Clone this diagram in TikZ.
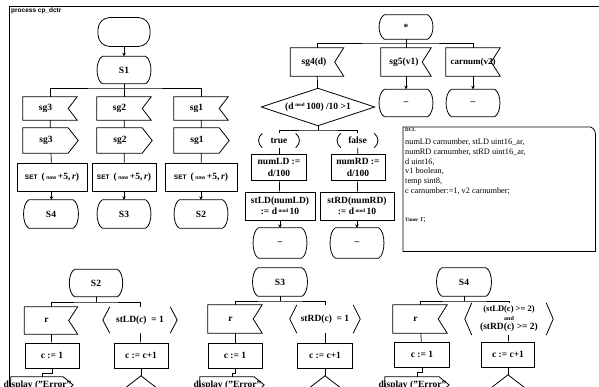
\documentclass[tikz,border=0pt]{standalone}
\usepackage{fontspec}
\setmainfont{Liberation Serif}
\setsansfont{Liberation Sans}
\usetikzlibrary{arrows.meta,calc}

\tikzset{
  lab/.style={font=\bfseries\fontsize{9.5}{11}\selectfont, align=center, inner sep=0pt},
  outline/.style={line width=0.8pt},
  flow/.style={line width=0.7pt},
  arr/.style={flow, -{Stealth[length=3.5pt,width=3.5pt]}},
  task/.style={lab, draw, outline, minimum width=#1},
  task/.default=54pt,
}

% SDL state: straight top and bottom, outward bulging sides
\newcommand\sdlstate[5]{%
  \node[lab, minimum width=#3, minimum height=#4] (#1) at (#2) {#5};
  \draw[outline] (#1.north west) -- (#1.north east)
    .. controls +(7pt,-4pt) and +(7pt,4pt) .. (#1.south east)
    -- (#1.south west)
    .. controls +(-7pt,4pt) and +(-7pt,-4pt) .. (#1.north west) -- cycle;}
% SDL input: notch on the right side
\newcommand\sdlinput[6][-9pt]{%
  \node[lab, minimum width=#4, minimum height=#5] (#2) at (#3) {\hspace*{#1}#6};
  \draw[outline] (#2.north west) -- (#2.north east) -- ($(#2.east)+(-9pt,0)$)
    -- (#2.south east) -- (#2.south west) -- cycle;}
% SDL output: point on the right side
\newcommand\sdloutput[5]{%
  \node[lab, minimum width=#3, minimum height=#4] (#1) at (#2) {\hspace*{-9pt}#5};
  \draw[outline] (#1.north west) -- ($(#1.north east)+(-10pt,0)$) -- (#1.east)
    -- ($(#1.south east)+(-10pt,0)$) -- (#1.south west) -- cycle;}
% decision
\newcommand\sdldecision[5]{%
  \node[lab, minimum width=#3, minimum height=#4] (#1) at (#2) {#5};
  \draw[outline] (#1.west) -- (#1.north) -- (#1.east) -- (#1.south) -- cycle;}
% continuous signal / enabling condition: angle brackets
\newcommand\sdlcont[5]{%
  \node[lab, minimum width=#3, minimum height=#4] (#1) at (#2) {#5};
  \draw[outline] ($(#1.north west)+(7pt,0)$) -- (#1.west) -- ($(#1.south west)+(7pt,0)$);
  \draw[outline] ($(#1.north east)+(-7pt,0)$) -- (#1.east) -- ($(#1.south east)+(-7pt,0)$);}
% decision answer: text in round brackets
\newcommand\sdlanswer[4]{%
  \node[lab, minimum width=#3, minimum height=14pt] (#1) at (#2) {#4};
  \draw[outline] ($(#1.north west)+(4pt,0)$) .. controls +(-5pt,-4pt) and +(-5pt,4pt) .. ($(#1.south west)+(4pt,0)$);
  \draw[outline] ($(#1.north east)+(-4pt,0)$) .. controls +(5pt,-4pt) and +(5pt,4pt) .. ($(#1.south east)+(-4pt,0)$);}
\newcommand\md{\,\raisebox{2.5pt}{\fontsize{5}{5}\selectfont mod}\,}
\newcommand\setnow{{\sffamily\bfseries\fontsize{6.5}{7}\selectfont SET}\hspace{4pt}(\,{\sffamily\fontsize{5}{6}\selectfont now}\,+5,\,\textit{r})}

\begin{document}
\begin{tikzpicture}[x=1pt,y=-1pt]
\useasboundingbox (0,0) rectangle (599,386);
\fill[white] (0,0) rectangle (599,386);
\clip (0,0) rectangle (599,386);

% frame and process heading
\draw[outline] (9,386) -- (9,6) -- (599,6);
\node[anchor=north west, inner sep=0pt, font=\sffamily\bfseries\fontsize{6.5}{7}\selectfont] (title) at (11,8) {process cp\_dctr};

% ---------- start transition ----------
\node[draw, outline, rounded corners=12pt, minimum width=52pt, minimum height=29pt] (start) at (124,32) {};
\sdlstate{S1}{124,70}{43pt}{27pt}{S1}
\coordinate (bar1) at (124,88);

\sdlinput{in3}{50,108.5}{54pt}{23pt}{sg3}
\sdlinput{in2}{124,108.5}{54pt}{23pt}{sg2}
\sdlinput{in1}{201,108.5}{54pt}{23pt}{sg1}
\sdloutput{out3}{50.5,140.5}{55pt}{25pt}{sg3}
\sdloutput{out2}{124.5,140.5}{55pt}{25pt}{sg2}
\sdloutput{out1}{201.5,140.5}{55pt}{25pt}{sg1}
\node[task=70pt, minimum height=28pt] (set3) at (52,177) {\setnow};
\node[task=64pt, minimum height=28pt] (set2) at (124,177) {\setnow};
\node[task=72pt, minimum height=28pt] (set1) at (201,177) {\setnow};
\sdlstate{S4}{51,214}{44pt}{28pt}{S4}
\sdlstate{S3}{124,214}{43pt}{28pt}{S3}
\sdlstate{S2}{201,214}{43pt}{28pt}{S2}

\draw[arr] (start) -- (S1);
\draw[flow] (S1) -- (bar1);
\draw[flow] (in3.north) |- (bar1) -| (in1.north);
\draw[flow] (bar1) -- (in2.north);
\foreach \a/\b/\c/\d in {in3/out3/set3/S4, in2/out2/set2/S3, in1/out1/set1/S2}{
  \draw[flow] (\a) -- (\b);
  \draw[flow] (\b) -- (\c);
  \draw[arr] (\c) -- (\d);
}

% ---------- transitions from any state ----------
\sdlstate{star}{406,27}{43pt}{24pt}{*}
\coordinate (bar2) at (406,43);
\sdlinput[-6pt]{sg4}{317,62}{53pt}{28pt}{sg4(d)}
\sdlinput[-4pt]{sg5}{406,62}{50pt}{28pt}{sg5(v1)}
\sdlinput[0pt]{carn}{473,62}{54pt}{28pt}{\fontsize{9}{10}\selectfont carnum(v2)}
\sdlstate{dash1}{406,103}{43pt}{27pt}{--}
\sdlstate{dash2}{473,103}{43pt}{27pt}{--}
\sdldecision{dec}{318,107}{113pt}{37pt}{(d\md 100) /10 >1}
\coordinate (bar3) at (318,130);
\sdlanswer{ansT}{279,140.5}{41pt}{true}
\sdlanswer{ansF}{357.5,140.5}{41pt}{false}
\node[task=55pt, minimum height=26pt, font=\bfseries\fontsize{9.5}{12}\selectfont] (numLD) at (279,167.5) {numLD :=\\d/100};
\node[task=54pt, minimum height=26pt, font=\bfseries\fontsize{9.5}{12}\selectfont] (numRD) at (358,167.5) {numRD :=\\d/100};
\node[task=70pt, minimum height=28pt] (stLD) at (280,206) {stLD(numLD)\\:= d\md 10};
\node[task=74pt, minimum height=28pt] (stRD) at (357,206) {stRD(numRD)\\:= d\md 10};
\sdlstate{dashL}{280,243}{43pt}{30pt}{--}
\sdlstate{dashR}{357,243}{43pt}{30pt}{--}

\draw[flow] (star) -- (bar2);
\draw[flow] (sg4.north) |- (bar2) -| (carn.north);
\draw[flow] (bar2) -- (sg5.north);
\draw[arr] (sg5) -- (dash1);
\draw[arr] (carn) -- (dash2);
\draw[flow] (sg4) -- (dec);
\draw[flow] (dec.south) -- (bar3);
\draw[flow] (ansT.north) |- (bar3) -| (ansF.north);
\draw[flow] (ansT) -- (numLD);
\draw[flow] (ansF) -- (numRD);
\draw[flow] (numLD) -- (stLD);
\draw[flow] (numRD) -- (stRD);
\draw[arr] (stLD) -- (dashL);
\draw[arr] (stRD) -- (dashR);

% ---------- declarations ----------
\node[minimum width=192pt, minimum height=124pt, anchor=north west, inner sep=0pt] (dcl) at (403,127) {};
\draw[outline] (dcl.south west) -- (dcl.north west) -- ($(dcl.north east)+(-8pt,0)$)
  .. controls +(5pt,1pt) and +(0,4pt) .. ($(dcl.north east)+(0,-7pt)$)
  -- (dcl.south east) -- cycle;
\node[anchor=north west, align=left, inner sep=0pt, font=\fontsize{8.3}{9.7}\selectfont] (dcltext) at (405,128) {%
  {\bfseries\fontsize{5}{5}\selectfont DCL}\\[3.5pt]
  numLD carnumber, stLD uint16\_ar,\\
  numRD carnumber, stRD uint16\_ar,\\
  d uint16,\\
  v1 boolean,\\
  temp sint8,\\
  c carnumber:=1, v2 carnumber;\\[19pt]
  {\bfseries\fontsize{5}{5}\selectfont Timer} r;};

% ---------- state S2 ----------
\sdlstate{S2b}{96,283}{42.5pt}{27pt}{S2}
\coordinate (bar4) at (96,302);
\sdlinput{r1}{51,320.5}{53pt}{27pt}{r}
\sdlcont{cs1}{140,320}{74pt}{26pt}{stLD(\textit{c})\ \ = 1}
\node[task=54pt, minimum height=25pt] (c1a) at (52,355.5) {c := 1};
\node[task=54pt, minimum height=25pt] (c2a) at (141,355.5) {c := c+1};
\sdloutput{disp1}{42,385}{62pt}{16pt}{display ("Error"}
\sdldecision{dd1}{141,396}{52pt}{40pt}{}

% ---------- state S3 ----------
\sdlstate{S3b}{280,282}{44pt}{28pt}{S3}
\coordinate (bar5) at (280,301);
\sdlinput{r2}{235,319}{54pt}{28pt}{r}
\sdlcont{cs2}{325,319}{70pt}{28pt}{stRD(c)\ \ = 1}
\node[task=54pt, minimum height=25pt] (c1b) at (235,355.5) {c := 1};
\node[task=55pt, minimum height=25pt] (c2b) at (325,355.5) {c := c+1};
\sdloutput{disp2}{232,385}{64pt}{16pt}{display ("Error"}
\sdldecision{dd2}{325,396}{52pt}{40pt}{}

% ---------- state S4 ----------
\sdlstate{S4b}{464,282}{44pt}{28pt}{S4}
\coordinate (bar6) at (464,301);
\sdlinput{r3}{420,319}{54pt}{28pt}{r}
\sdlcont{cs3}{509,319}{88pt}{32pt}{\fontsize{8.5}{10}\selectfont (stLD(c) >= 2)\\[-2pt]{\fontsize{6}{7}\selectfont and}\\[-2pt](stRD(c) >= 2)}
\node[task=55pt, minimum height=25pt] (c1c) at (422,354.5) {c := 1};
\node[task=53pt, minimum height=25pt] (c2c) at (508,354.5) {c := c+1};
\sdloutput{disp3}{417,385}{64pt}{16pt}{display ("Error"}
\sdldecision{dd3}{508,395}{52pt}{40pt}{}

\foreach \s/\b/\r/\c/\ca/\cb/\d/\dd in {S2b/bar4/r1/cs1/c1a/c2a/disp1/dd1, S3b/bar5/r2/cs2/c1b/c2b/disp2/dd2, S4b/bar6/r3/cs3/c1c/c2c/disp3/dd3}{
  \draw[flow] (\s) -- (\b);
  \draw[flow] (\r.north) |- (\b) -| (\c.north);
  \draw[flow] (\r) -- (\ca);
  \draw[flow] (\c) -- (\cb);
  \draw[flow] (\ca.south) -- ++(0,-5pt) -| (\d.north);
  \draw[flow] (\cb.south) -- (\dd.north);
}
\end{tikzpicture}
\end{document}
